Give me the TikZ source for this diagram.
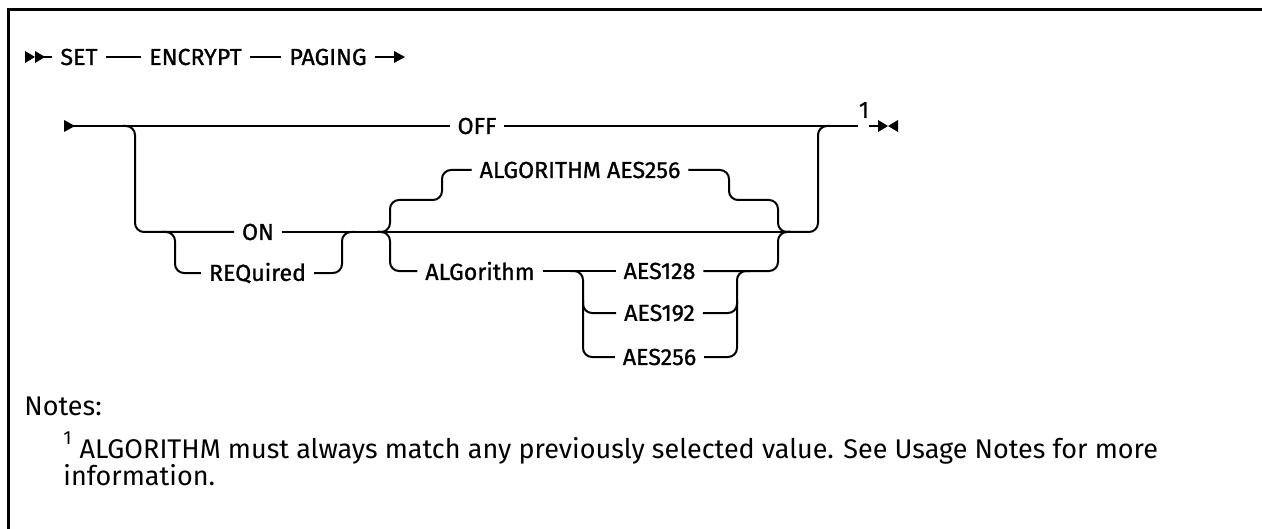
\documentclass[tikz,border=0pt]{standalone}
\usepackage{fontspec}
\setmainfont{Fira Sans}
\newfontfamily\diagfont{Fira Sans}[FakeBold=1.0]
\begin{document}
\begin{tikzpicture}[x=0.5pt,y=-0.5pt,
  rail/.style={line width=1pt, rounded corners=4.5pt},
  kw/.style={font=\diagfont\fontsize{11.6}{13}\selectfont, inner xsep=4pt, inner ysep=1pt, outer sep=0pt, anchor=center},
  notetext/.style={font=\fontsize{13.5}{16}\selectfont, inner sep=0pt, anchor=base west},
  tip/.style={fill=black}]
\useasboundingbox (0,0) rectangle (1262,529);
% frame
\draw[line width=1.5pt] (8,529) -- (8,10) -- (1262,10);

% ---- row 1
\node[kw] (set) at (79,57) {SET};
\node[kw] (enc) at (195.5,57) {ENCRYPT};
\node[kw] (pag) at (328,57) {PAGING};
\coordinate (s1) at (44,57);
\coordinate (e1) at (396,57);
\fill[tip] (25,51) -- (35,57) -- (25,63) -- cycle;
\fill[tip] (35,51) -- (45,57) -- (35,63) -- cycle;
\fill[tip] (394,51) -- (405,57) -- (394,63) -- cycle;
\draw[rail] (s1) -- (set.west);
\draw[rail] (set.east) -- (enc.west);
\draw[rail] (enc.east) -- (pag.west);
\draw[rail] (pag.east) -- (e1);

% ---- row 2
\coordinate (s2) at (73,126);
\fill[tip] (64,120) -- (75,126) -- (64,132) -- cycle;
\node[kw] (off) at (477,126) {OFF};
\coordinate (e2) at (858,126);
\node[kw, inner xsep=0pt] (fn) at (864,110) {1};
\coordinate (e2b) at (869,126);
\coordinate (e2c) at (880,126);
\fill[tip] (878,120) -- (888,126) -- (878,132) -- cycle;
\fill[tip] (898,120) -- (888,126) -- (898,132) -- cycle;
\draw[rail] (s2) -- (off.west);
\draw[rail] (off.east) -- (e2);
\draw[rail] (e2b) -- (e2c);

% left branch to ON
\node[kw] (on) at (258,232) {ON};
\node[kw] (req) at (257.5,273) {REQuired};
\coordinate (a0) at (122,126);
\coordinate (a1) at (135,126);
\coordinate (a2) at (135,232);
\draw[rail] (a0) -- (a1) -- (a2) -- (on.west);
\coordinate (r0) at (162,232);
\coordinate (r1) at (175,232);
\coordinate (r2) at (175,273);
\coordinate (r3) at (342,273);
\coordinate (r4) at (342,232);
\coordinate (r5) at (355,232);
\draw[rail] (r0) -- (r1) -- (r2) -- (req.west);
\draw[rail] (req.east) -- (r3) -- (r4) -- (r5);

% braces
\coordinate (lb) at (377,232);
\coordinate (lb1) at (390,232);
\coordinate (rb) at (783,232);
\coordinate (rb0) at (791,232);
\coordinate (rb1) at (778,232);
\draw[rail] (on.east) -- (lb);
\draw[rail] (lb) -- (rb0);

\node[kw] (alg256) at (580,170) {ALGORITHM AES256};
\node[kw] (algo) at (480,271) {ALGorithm};
\node[kw] (aes128) at (659.5,271) {AES128};
\node[kw] (aes192) at (659.5,313) {AES192};
\node[kw] (aes256) at (659.5,357) {AES256};

\coordinate (u1) at (390,200);
\coordinate (u2) at (442,200);
\coordinate (u3) at (442,170);
\draw[rail] (lb) -- (lb1) -- (u1) -- (u2) -- (u3) -- (alg256.west);
\coordinate (d1) at (390,271);
\draw[rail] (lb) -- (lb1) -- (d1) -- (algo.west);

\coordinate (v1) at (729,170);
\coordinate (v2) at (729,200);
\coordinate (v3) at (778,200);
\draw[rail] (alg256.east) -- (v1) -- (v2) -- (v3) -- (rb1) -- (rb0);
\coordinate (w1) at (778,271);
\draw[rail] (aes128.east) -- (w1) -- (rb1) -- (rb0);

\coordinate (j1) at (818,232);
\coordinate (j2) at (818,126);
\coordinate (j3) at (830,126);
\draw[rail] (rb) -- (j1) -- (j2) -- (j3);

% algorithm choices
\draw[rail] (algo.east) -- (aes128.west);
\coordinate (k0) at (570,271);
\coordinate (k1) at (583,271);
\coordinate (k2) at (583,357);
\coordinate (k3) at (583,300);
\coordinate (k4) at (583,313);
\draw[rail] (k0) -- (k1) -- (k2) -- (aes256.west);
\draw[rail] (k3) -- (k4) -- (aes192.west);
\coordinate (m1) at (737,357);
\coordinate (m2) at (737,271);
\coordinate (m3) at (750,271);
\coordinate (m4) at (737,313);
\coordinate (m5) at (737,300);
\draw[rail] (aes256.east) -- (m1) -- (m2) -- (m3);
\draw[rail] (aes192.east) -- (m4) -- (m5);

% notes
\node[notetext] (notes) at (24,415) {Notes:};
\node[notetext] (fn1) at (63,458) {\raisebox{0.5em}{\fontsize{9.5}{10}\selectfont 1}\hspace{0.3em}ALGORITHM must always match any previously selected value. See Usage Notes for more};
\node[notetext] (fn2) at (63,485) {information.};
\end{tikzpicture}
\end{document}
